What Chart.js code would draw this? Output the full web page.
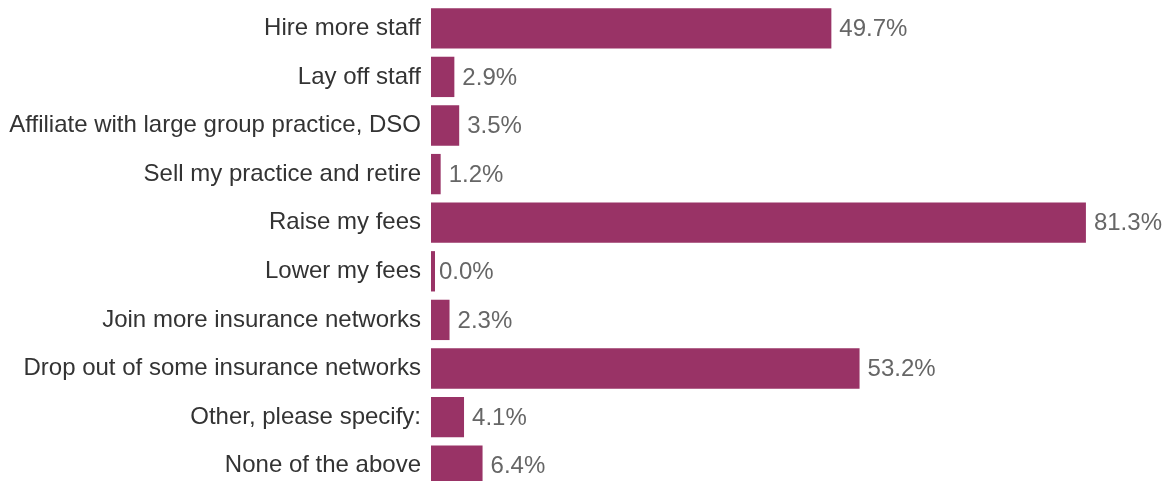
<!DOCTYPE html>
<html>
<head>
<meta charset="utf-8">
<script src="https://cdn.jsdelivr.net/npm/chart.js@4"></script>
<style>
  html, body { margin: 0; padding: 0; background: #fff; overflow: hidden; }
  #wrap { width: 1165px; height: 492px; }
</style>
</head>
<body>
<div id="wrap"><canvas id="planChart"></canvas></div>
<script>
const categories = [
  'Hire more staff',
  'Lay off staff',
  'Affiliate with large group practice, DSO',
  'Sell my practice and retire',
  'Raise my fees',
  'Lower my fees',
  'Join more insurance networks',
  'Drop out of some insurance networks',
  'Other, please specify:',
  'None of the above'
];
const percentages = [49.7, 2.9, 3.5, 1.2, 81.3, 0.0, 2.3, 53.2, 4.1, 6.4];

const barColor = '#993366';
const fontFamily = '"Liberation Sans", Arial, sans-serif';

// draws "49.7%" style labels just past the end of each bar
const valueLabels = {
  id: 'valueLabels',
  afterDatasetsDraw(chart) {
    const ctx = chart.ctx;
    const xScale = chart.scales.x;
    const meta = chart.getDatasetMeta(0);
    ctx.save();
    ctx.font = '24px ' + fontFamily;
    ctx.fillStyle = '#666666';
    ctx.textAlign = 'left';
    ctx.textBaseline = 'middle';
    meta.data.forEach((bar, i) => {
      const x = xScale.getPixelForValue(percentages[i]) + 8;
      ctx.fillText(percentages[i].toFixed(1) + '%', x, bar.y + 1);
    });
    ctx.restore();
  }
};

new Chart(document.getElementById('planChart'), {
  type: 'bar',
  data: {
    labels: categories,
    datasets: [{
      data: percentages,
      backgroundColor: barColor,
      borderWidth: 0,
      minBarLength: 4,
      categoryPercentage: 0.83,
      barPercentage: 1
    }]
  },
  options: {
    indexAxis: 'y',
    responsive: true,
    maintainAspectRatio: false,
    animation: false,
    layout: { padding: { top: 4, bottom: 2, left: 0, right: 9 } },
    plugins: {
      legend: { display: false },
      tooltip: { enabled: false }
    },
    scales: {
      x: {
        display: false,
        min: 0,
        max: 90
      },
      y: {
        grid: { display: false, drawTicks: false },
        border: { display: false },
        ticks: {
          color: '#333333',
          padding: 10,
          font: { family: fontFamily, size: 24 }
        },
        afterFit(scale) {
          scale.width = 431;
          // no extra room above/below for the label halves
          scale.paddingTop = 0;
          scale.paddingBottom = 0;
        }
      }
    }
  },
  plugins: [valueLabels]
});
</script>
</body>
</html>
